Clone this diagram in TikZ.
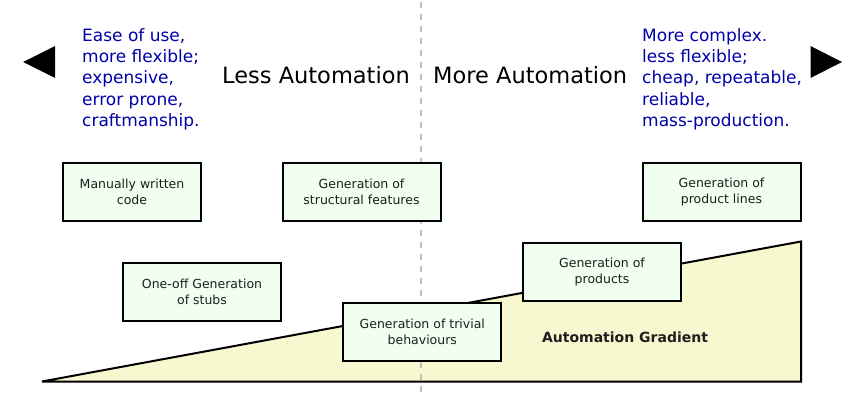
\documentclass[tikz,border=0pt]{standalone}
\usepackage{fontspec}
\setmainfont{DejaVu Sans}
\definecolor{boxfill}{RGB}{240,255,240}
\definecolor{gradfill}{RGB}{248,248,208}
\definecolor{bluetxt}{RGB}{0,0,170}
\definecolor{dashgray}{RGB}{190,190,190}
\definecolor{boxtext}{RGB}{30,30,30}
\begin{document}
\begin{tikzpicture}[x=1pt,y=-1pt,
  stage/.style={draw=black, line width=2pt, fill=boxfill, minimum width=158pt,
    minimum height=58pt, align=center, inner sep=0pt, text=boxtext,
    font=\fontsize{12.5}{16}\selectfont},
  note/.style={anchor=north west, align=left, inner sep=0pt, text=bluetxt,
    font=\fontsize{17}{21.3}\selectfont},
  heading/.style={anchor=base west, inner sep=0pt, font=\fontsize{22.5}{27}\selectfont},
  pointer/.style={fill=black}]
\useasboundingbox (0,0) rectangle (864,404);
% gradient
\draw[fill=gradfill, line width=2pt, line join=miter] (42,381.5) -- (801,241.5) -- (801,381.5) -- cycle;
\node[font=\bfseries\fontsize{14}{16}\selectfont, text=boxtext] (grad) at (625,337) {Automation Gradient};
% divider
\coordinate (dtop) at (421,2);
\coordinate (dbot) at (421,392);
\draw[dashgray, line width=2pt, dash pattern=on 6pt off 6pt] (dtop) -- (dbot);
% arrows
\fill[pointer] (23,62) -- (55,46) -- (55,78) -- cycle;
\fill[pointer] (842,62) -- (810.5,46) -- (810.5,78) -- cycle;
% headings
\node[heading] (less) at (222,83) {Less Automation};
\node[heading] (more) at (433,83) {More Automation};
% notes
\node[note] (lnote) at (82,28) {Ease of use,\\more flexible;\\expensive,\\error prone,\\craftmanship.};
\node[note] (rnote) at (642,28) {More complex.\\less flexible;\\cheap, repeatable,\\reliable,\\mass-production.};
% boxes
\node[stage, minimum width=138pt] (manual) at (132,191.7) {Manually written\\code};
\node[stage] (struct) at (361.5,191.7) {Generation of\\structural features};
\node[stage] (plines) at (721.5,191.7) {Generation of\\product lines};
\node[stage] (stubs) at (202,291.7) {One-off Generation\\of stubs};
\node[stage] (trivial) at (422.3,331.7) {Generation of trivial\\behaviours};
\node[stage] (prods) at (602,271.7) {Generation of\\products};
\end{tikzpicture}
\end{document}
